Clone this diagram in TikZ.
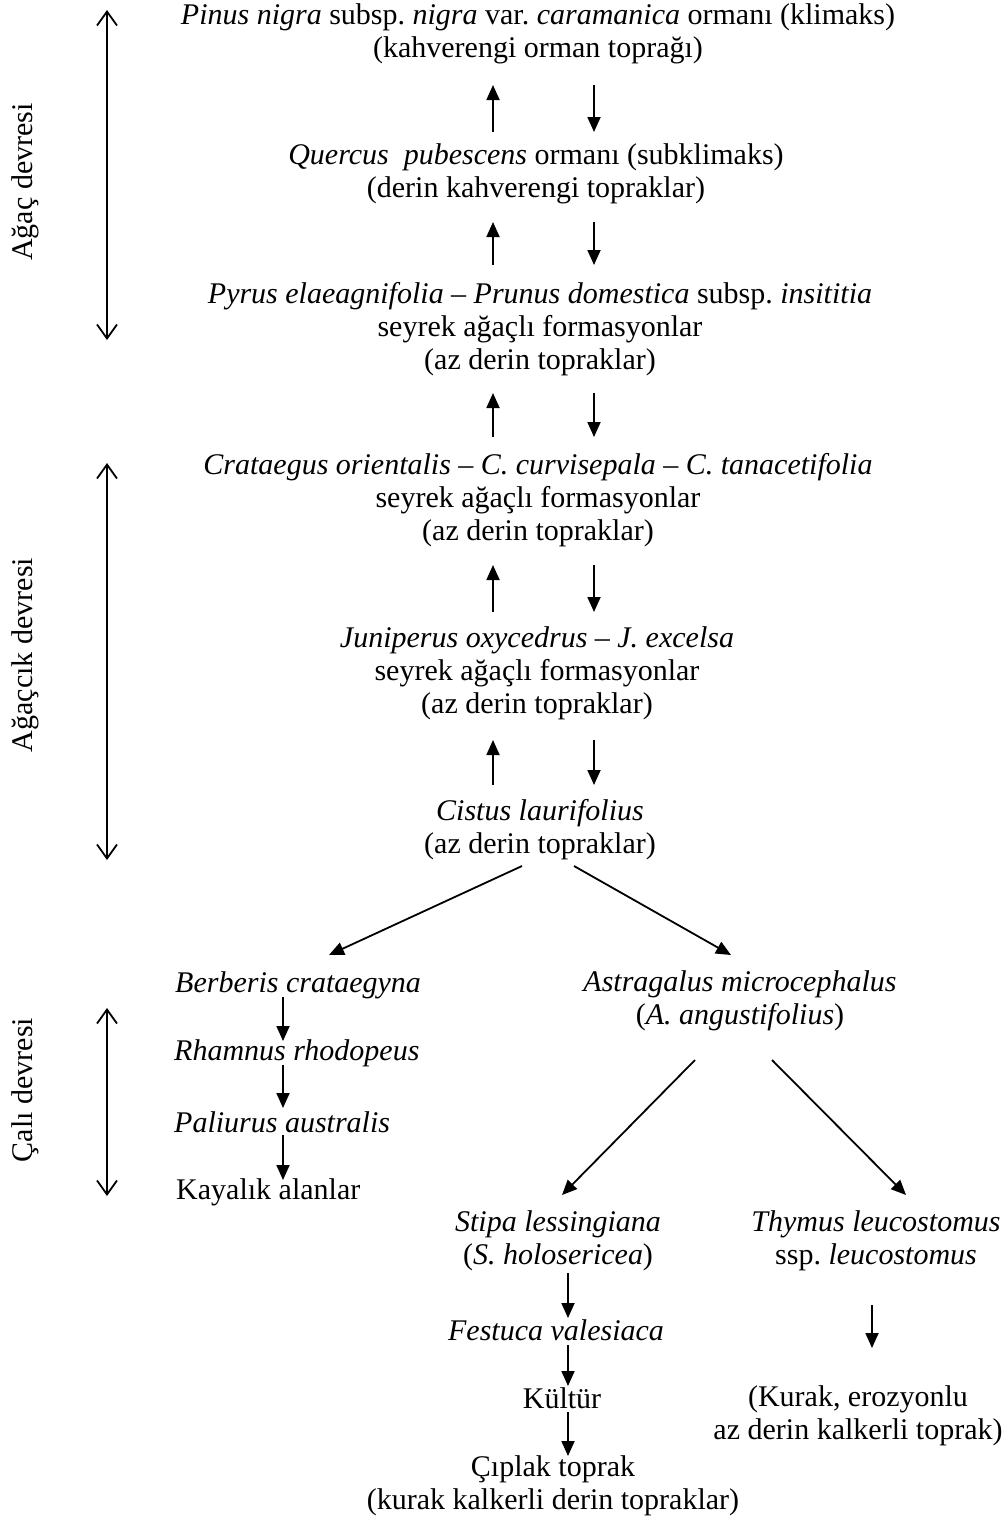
\documentclass[tikz,border=0pt]{standalone}
\usepackage{fontspec}
\setmainfont{Liberation Serif}
\usetikzlibrary{arrows.meta,calc}
\begin{document}
\frenchspacing
\begin{tikzpicture}[x=1pt,y=-1pt,
  txt/.style={inner sep=0pt, align=center, font=\fontsize{30}{33}\selectfont\frenchspacing},
  tri/.style={line width=1.8pt, -{Triangle[length=15pt,width=13pt]}},
  span/.style={line width=1.8pt, {Straight Barb[length=14pt,width=20pt,line width=1.8pt]}-{Straight Barb[length=14pt,width=20pt,line width=1.8pt]}},
  side/.style={inner sep=0pt, rotate=90, font=\fontsize{30}{33}\selectfont}]
\useasboundingbox (0,0) rectangle (1008,1521);

% main sequence
\node[txt] (n1) at (538,34) {\textit{Pinus nigra} subsp. \textit{nigra} var. \textit{caramanica} ormanı (klimaks)\\(kahverengi orman toprağı)};
\node[txt] (n2) at (536,174) {\textit{Quercus}\ \ \textit{pubescens} ormanı (subklimaks)\\(derin kahverengi topraklar)};
\node[txt] (n3) at (540,329) {\textit{Pyrus elaeagnifolia} – \textit{Prunus domestica} subsp. \textit{insititia}\\seyrek ağaçlı formasyonlar\\(az derin topraklar)};
\node[txt] (n4) at (538,500) {\textit{Crataegus orientalis} – \textit{C. curvisepala} – \textit{C. tanacetifolia}\\seyrek ağaçlı formasyonlar\\(az derin topraklar)};
\node[txt] (n5) at (537,673) {\textit{Juniperus oxycedrus} – \textit{J. excelsa}\\seyrek ağaçlı formasyonlar\\(az derin topraklar)};
\node[txt] (n6) at (540,830) {\textit{Cistus laurifolius}\\(az derin topraklar)};

% left branch
\node[txt,anchor=west] (berb) at (175,985) {\textit{Berberis crataegyna}};
\node[txt,anchor=west] (rham) at (174,1053) {\textit{Rhamnus rhodopeus}};
\node[txt,anchor=west] (pali) at (174,1122) {\textit{Paliurus australis}};
\node[txt,anchor=west] (kaya) at (176,1192) {Kayalık alanlar};

% right branch
\node[txt] (astr) at (740,1001) {\textit{Astragalus microcephalus}\\(\textit{A. angustifolius})};
\node[txt] (stipa) at (558,1241) {\textit{Stipa lessingiana}\\(\textit{S. holosericea})};
\node[txt] (thym) at (876,1241) {\textit{Thymus leucostomus}\\ssp. \textit{leucostomus}};
\node[txt] (fest) at (556,1330) {\textit{Festuca valesiaca}};
\node[txt] (kult) at (562,1398) {Kültür};
\node[txt] (cip) at (553,1486) {Çıplak toprak\\(kurak kalkerli derin topraklar)};
\node[txt] (kur) at (858,1416) {(Kurak, erozyonlu\\az derin kalkerli toprak)};

% side labels and spans
\node[side] (lab1) at (25,182) {Ağaç devresi};
\node[side] (lab2) at (25,655) {Ağaçcık devresi};
\node[side] (lab3) at (25,1090) {Çalı devresi};
\coordinate (s1t) at (107,10);  \coordinate (s1b) at (107,340);
\coordinate (s2t) at (107,463); \coordinate (s2b) at (107,860);
\coordinate (s3t) at (107,1008); \coordinate (s3b) at (107,1196);
\draw[span] (s1t) -- (s1b);
\draw[span] (s2t) -- (s2b);
\draw[span] (s3t) -- (s3b);

% arrow columns
\coordinate (L) at (493,0);
\coordinate (R) at (594,0);
\coordinate (X1) at (283,0);
\coordinate (X2) at (568,0);
\coordinate (X3) at (872,0);

% paired arrows
\draw[tri] ($(n2 -| L)+(0,-42)$) -- ($(n1 -| L)+(0,51)$);
\draw[tri] ($(n1 -| R)+(0,51)$) -- ($(n2 -| R)+(0,-42)$);
\draw[tri] ($(n3 -| L)+(0,-64)$) -- ($(n2 -| L)+(0,48)$);
\draw[tri] ($(n2 -| R)+(0,48)$) -- ($(n3 -| R)+(0,-64)$);
\draw[tri] ($(n4 -| L)+(0,-63)$) -- ($(n3 -| L)+(0,64)$);
\draw[tri] ($(n3 -| R)+(0,64)$) -- ($(n4 -| R)+(0,-63)$);
\draw[tri] ($(n5 -| L)+(0,-61)$) -- ($(n4 -| L)+(0,65)$);
\draw[tri] ($(n4 -| R)+(0,65)$) -- ($(n5 -| R)+(0,-61)$);
\draw[tri] ($(n6 -| L)+(0,-45)$) -- ($(n5 -| L)+(0,67)$);
\draw[tri] ($(n5 -| R)+(0,67)$) -- ($(n6 -| R)+(0,-45)$);

% cistus split
\draw[tri] ($(n6)+(-18,36)$) -- ($(berb.west)+(154,-30)$);
\draw[tri] ($(n6)+(34,36)$) -- ($(astr)+(-9,-46)$);

% left chain
\draw[tri] ($(berb -| X1)+(0,12)$) -- ($(rham -| X1)+(0,-12)$);
\draw[tri] ($(rham -| X1)+(0,12)$) -- ($(pali -| X1)+(0,-14)$);
\draw[tri] ($(pali -| X1)+(0,13)$) -- ($(kaya -| X1)+(0,-12)$);

% astragalus split
\draw[tri] ($(astr)+(-45,59)$) -- ($(stipa)+(4,-46)$);
\draw[tri] ($(astr)+(32,59)$) -- ($(thym)+(30,-46)$);

% stipa chain
\draw[tri] ($(stipa -| X2)+(0,32)$) -- ($(fest -| X2)+(0,-12)$);
\draw[tri] ($(fest -| X2)+(0,15)$) -- ($(kult -| X2)+(0,-12)$);
\draw[tri] ($(kult -| X2)+(0,14)$) -- ($(cip -| X2)+(0,-30)$);
\draw[tri] ($(thym -| X3)+(0,64)$) -- ($(kur -| X3)+(0,-68)$);
\end{tikzpicture}
\end{document}
